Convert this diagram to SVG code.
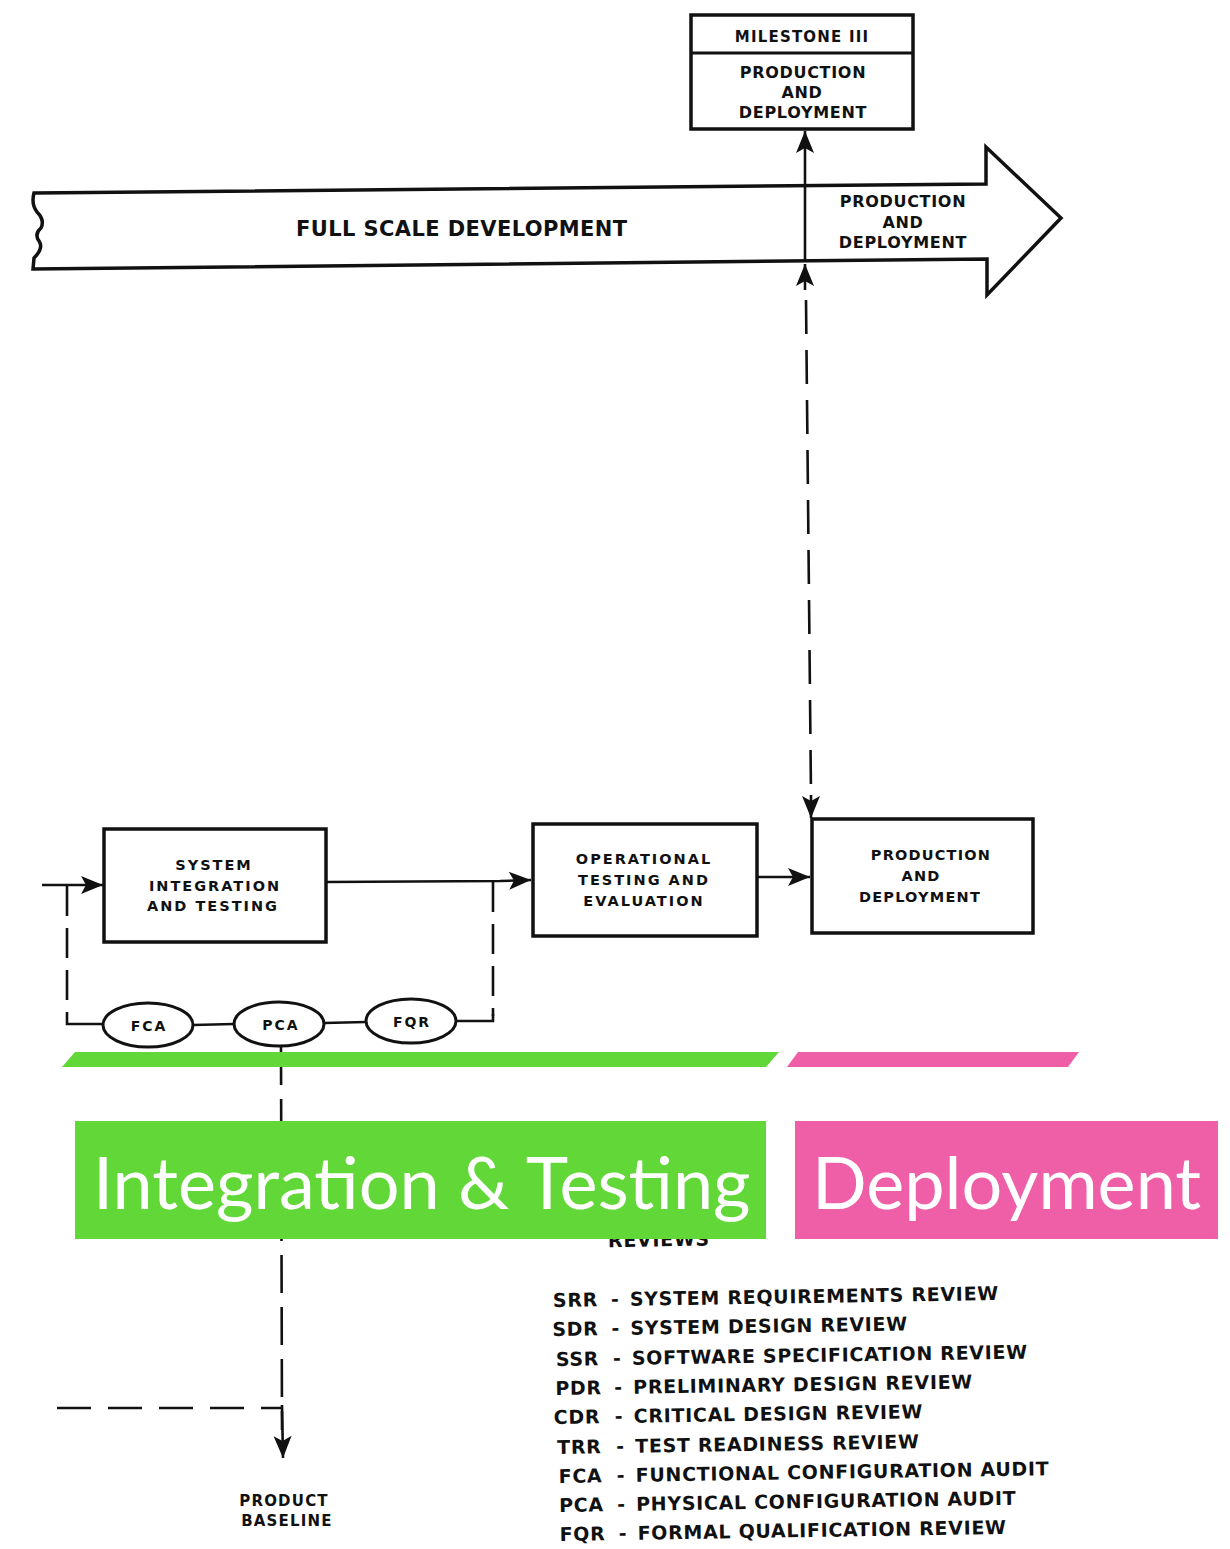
<svg xmlns="http://www.w3.org/2000/svg" width="1230" height="1549" viewBox="0 0 1230 1549">
  <defs>
    <style>
      .bg { fill: #ffffff; }
      .box { fill: #ffffff; stroke: #111; stroke-width: 3.5; }
      .oval { fill: #ffffff; stroke: #111; stroke-width: 3; }
      .wire { fill: none; stroke: #111; stroke-width: 2.6; }
      .dash { fill: none; stroke: #111; stroke-width: 2.6; stroke-dasharray: 34 16; }
      .t { font-family: "DejaVu Sans", "Liberation Sans", Arial, sans-serif; font-weight: bold; fill: #111; }
      .bx { font-size: 14.5px; letter-spacing: 2px; text-anchor: middle; }
      .hd { font-size: 16px; letter-spacing: 0.7px; text-anchor: middle; }
      .ov { font-size: 14px; letter-spacing: 2px; text-anchor: middle; }
      .lg { font-size: 19px; letter-spacing: 0.7px; }
      .tag { font-family: Lato, "Open Sans", sans-serif; font-size: 72px; fill: #ffffff; }
      .green { fill: #62d838; }
      .pink { fill: #ef5fa7; }
    </style>
    <marker id="head" viewBox="-24 -10 26 20" refX="0" refY="0" markerWidth="26" markerHeight="20" markerUnits="userSpaceOnUse" orient="auto-start-reverse">
      <path d="M0,0 L-22,-9 L-17,0 L-22,9 Z" fill="#111"/>
    </marker>
  </defs>

  <rect class="bg" x="0" y="0" width="1230" height="1549"/>

  <!-- phase band: full scale development into production -->
  <g id="phase-band">
    <path class="box" d="M34,193 L986,184 L986,147 L1061,218 L987,295 L987,259 L33,269 L34,258 Q44,248 39,241 Q34,234 41,228 Q45,220 37,212 Q31,204 34,193 Z"/>
    <text class="t" x="296" y="236" style="font-size:21px;letter-spacing:0.4px">FULL SCALE DEVELOPMENT</text>
    <text class="t hd" x="903" y="207">PRODUCTION</text>
    <text class="t hd" x="903" y="228">AND</text>
    <text class="t hd" x="903" y="248">DEPLOYMENT</text>
  </g>

  <!-- milestone header -->
  <g id="milestone-3">
    <rect class="box" x="691" y="15" width="222" height="114"/>
    <line x1="691" y1="53" x2="913" y2="53" stroke="#111" stroke-width="3"/>
    <text class="t" x="802" y="42" style="font-size:15px;letter-spacing:1.2px;text-anchor:middle">MILESTONE III</text>
    <text class="t hd" x="803" y="78">PRODUCTION</text>
    <text class="t hd" x="802" y="98">AND</text>
    <text class="t hd" x="803" y="118">DEPLOYMENT</text>
  </g>

  <!-- activity boxes -->
  <g id="system-integration">
    <rect class="box" x="104" y="829" width="222" height="113"/>
    <text class="t bx" x="214" y="870">SYSTEM</text>
    <text class="t bx" x="215" y="891">INTEGRATION</text>
    <text class="t bx" x="213" y="911">AND TESTING</text>
  </g>

  <g id="operational-testing">
    <rect class="box" x="533" y="824" width="224" height="112"/>
    <text class="t bx" x="644" y="864">OPERATIONAL</text>
    <text class="t bx" x="644" y="885">TESTING AND</text>
    <text class="t bx" x="644" y="906">EVALUATION</text>
  </g>

  <g id="production-deployment">
    <rect class="box" x="812" y="819" width="221" height="114"/>
    <text class="t bx" x="931" y="860" style="letter-spacing:1.2px">PRODUCTION</text>
    <text class="t bx" x="921" y="881" style="letter-spacing:1.2px">AND</text>
    <text class="t bx" x="920" y="902" style="letter-spacing:1.2px">DEPLOYMENT</text>
  </g>

  <!-- audits -->
  <g id="fca">
    <ellipse class="oval" cx="148" cy="1025" rx="45" ry="22"/>
    <text class="t ov" x="149" y="1031">FCA</text>
  </g>
  <g id="pca">
    <ellipse class="oval" cx="279" cy="1024" rx="45" ry="22"/>
    <text class="t ov" x="281" y="1030">PCA</text>
  </g>
  <g id="fqr">
    <ellipse class="oval" cx="411" cy="1021" rx="45" ry="22"/>
    <text class="t ov" x="412" y="1027">FQR</text>
  </g>

  <!-- connectors -->
  <g id="connectors">
    <line class="wire" x1="805" y1="262" x2="805" y2="131" marker-end="url(#head)"/>
    <line class="wire" x1="805" y1="290" x2="805" y2="264" marker-end="url(#head)"/>
    <line class="dash" x1="806" y1="300" x2="811" y2="795"/>
    <line class="wire" x1="811" y1="795" x2="811" y2="818" marker-end="url(#head)"/>
    <line class="wire" x1="42" y1="885" x2="103" y2="885" marker-end="url(#head)"/>
    <polyline class="wire" points="326,882 500,881 531,880" marker-end="url(#head)"/>
    <line class="wire" x1="757" y1="877" x2="810" y2="877" marker-end="url(#head)"/>
    <line class="dash" x1="67" y1="886" x2="67" y2="1020" style="stroke-dasharray:30 12"/>
    <polyline class="wire" points="67,1020 67,1024 103,1024"/>
    <line class="dash" x1="493" y1="882" x2="493" y2="1016" style="stroke-dasharray:30 12"/>
    <polyline class="wire" points="456,1021 493,1021 493,1014"/>
    <line class="wire" x1="193" y1="1025" x2="234" y2="1024"/>
    <line class="wire" x1="324" y1="1023" x2="366" y2="1022"/>
    <line class="dash" x1="281" y1="1047" x2="282" y2="1430" style="stroke-dasharray:38 14"/>
    <line class="wire" x1="282" y1="1405" x2="283" y2="1458" marker-end="url(#head)"/>
    <line class="dash" x1="57" y1="1408" x2="283" y2="1408" style="stroke-dasharray:34 17"/>
  </g>

  <g id="product-baseline">
    <text class="t" x="284" y="1506" style="font-size:15px;letter-spacing:1.2px;text-anchor:middle">PRODUCT</text>
    <text class="t" x="287" y="1526" style="font-size:15px;letter-spacing:1.2px;text-anchor:middle">BASELINE</text>
  </g>

  <!-- review legend -->
  <g id="legend" transform="rotate(-0.9 553 1307)">
    <text class="t lg" x="609" y="1248">REVIEWS</text>
    <text class="t lg" x="553" y="1307">SRR</text><text class="t lg" x="611" y="1307">-</text><text class="t lg" x="630" y="1307">SYSTEM REQUIREMENTS REVIEW</text>
    <text class="t lg" x="552" y="1336">SDR</text><text class="t lg" x="611" y="1336">-</text><text class="t lg" x="630" y="1336">SYSTEM DESIGN REVIEW</text>
    <text class="t lg" x="555" y="1366">SSR</text><text class="t lg" x="612" y="1366">-</text><text class="t lg" x="631" y="1366">SOFTWARE SPECIFICATION REVIEW</text>
    <text class="t lg" x="554" y="1395">PDR</text><text class="t lg" x="613" y="1395">-</text><text class="t lg" x="632" y="1395">PRELIMINARY DESIGN REVIEW</text>
    <text class="t lg" x="552" y="1424">CDR</text><text class="t lg" x="613" y="1424">-</text><text class="t lg" x="632" y="1424">CRITICAL DESIGN REVIEW</text>
    <text class="t lg" x="555" y="1454">TRR</text><text class="t lg" x="614" y="1454">-</text><text class="t lg" x="633" y="1454">TEST READINESS REVIEW</text>
    <text class="t lg" x="556" y="1483">FCA</text><text class="t lg" x="614" y="1483">-</text><text class="t lg" x="633" y="1483">FUNCTIONAL CONFIGURATION AUDIT</text>
    <text class="t lg" x="556" y="1512">PCA</text><text class="t lg" x="614" y="1512">-</text><text class="t lg" x="633" y="1512">PHYSICAL CONFIGURATION AUDIT</text>
    <text class="t lg" x="556" y="1541">FQR</text><text class="t lg" x="615" y="1541">-</text><text class="t lg" x="634" y="1541">FORMAL QUALIFICATION REVIEW</text>
  </g>

  <!-- phase highlight bars and labels -->
  <g id="integration-testing-label">
    <polygon class="green" points="75,1052 779,1052 766,1067 62,1067"/>
    <rect class="green" x="75" y="1121" width="691" height="118"/>
    <text class="tag" x="93" y="1209">Integration &amp; Testing</text>
  </g>
  <g id="deployment-label">
    <polygon class="pink" points="798,1052 1079,1052 1068,1067 787,1067"/>
    <rect class="pink" x="795" y="1121" width="423" height="118"/>
    <text class="tag" x="812" y="1209">Deployment</text>
  </g>
</svg>
